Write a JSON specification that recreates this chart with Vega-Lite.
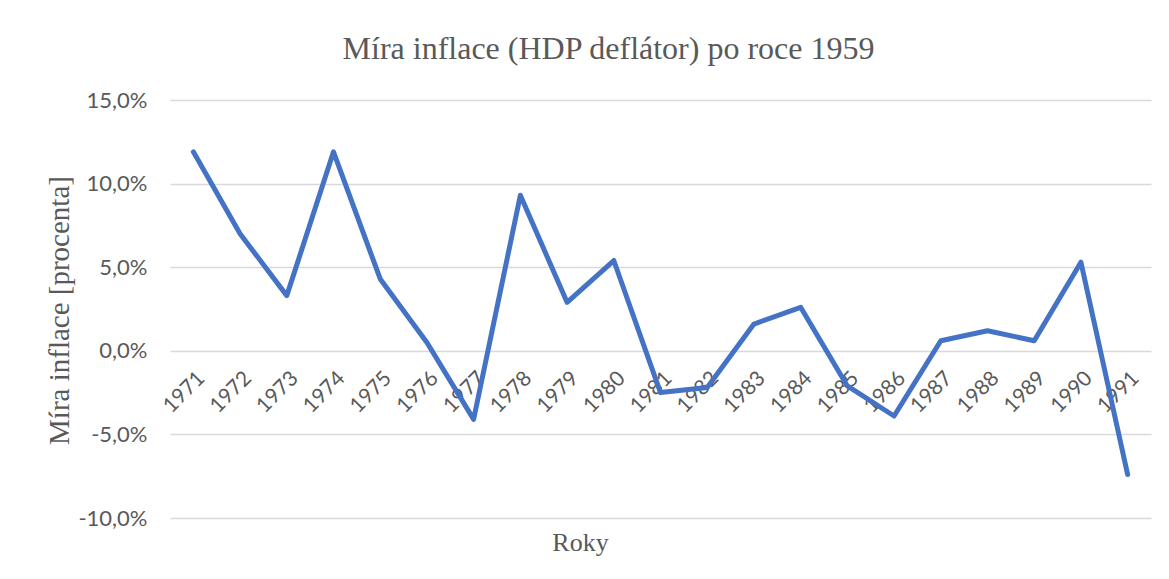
{
  "$schema": "https://vega.github.io/schema/vega-lite/v6.json",
  "autosize": "none",
  "width": 981,
  "height": 418,
  "padding": {"left": 170, "top": 100, "right": 18, "bottom": 61},
  "background": "white",
  "config": {
    "locale": {"number": {"decimal": ",", "thousands": " ", "grouping": [3], "currency": ["", " Kč"], "minus": "-"}},
    "view": {"stroke": null}
  },
  "title": {
    "text": "Míra inflace (HDP deflátor) po roce 1959",
    "font": "Liberation Serif",
    "fontSize": 32,
    "fontWeight": "normal",
    "color": "#595959",
    "anchor": "middle",
    "frame": "group",
    "dx": -52,
    "baseline": "alphabetic",
    "offset": -2
  },
  "data": {
    "values": [
      {"rok": "1971", "inflace": 0.119},
      {"rok": "1972", "inflace": 0.070},
      {"rok": "1973", "inflace": 0.033},
      {"rok": "1974", "inflace": 0.119},
      {"rok": "1975", "inflace": 0.043},
      {"rok": "1976", "inflace": 0.005},
      {"rok": "1977", "inflace": -0.041},
      {"rok": "1978", "inflace": 0.093},
      {"rok": "1979", "inflace": 0.029},
      {"rok": "1980", "inflace": 0.054},
      {"rok": "1981", "inflace": -0.025},
      {"rok": "1982", "inflace": -0.022},
      {"rok": "1983", "inflace": 0.016},
      {"rok": "1984", "inflace": 0.026},
      {"rok": "1985", "inflace": -0.021},
      {"rok": "1986", "inflace": -0.039},
      {"rok": "1987", "inflace": 0.006},
      {"rok": "1988", "inflace": 0.012},
      {"rok": "1989", "inflace": 0.006},
      {"rok": "1990", "inflace": 0.053},
      {"rok": "1991", "inflace": -0.074}
    ]
  },
  "mark": {"type": "line", "color": "#4472C4", "strokeWidth": 5, "strokeCap": "round", "strokeJoin": "round"},
  "encoding": {
    "x": {
      "field": "rok",
      "type": "ordinal",
      "scale": {"type": "point", "padding": 0.5},
      "axis": {
        "title": "Roky",
        "titleFont": "Liberation Serif",
        "titleFontSize": 26,
        "titleFontWeight": "normal",
        "titleColor": "#595959",
        "titleX": 410,
        "titleY": 199,
        "titleBaseline": "alphabetic",
        "titleAlign": "center",
        "offset": -167,
        "domain": false,
        "ticks": false,
        "grid": false,
        "labelAngle": -45,
        "labelAlign": "right",
        "labelBaseline": "top",
        "labelPadding": 16,
        "labelFont": "Lato",
        "labelFontSize": 21,
        "labelColor": "#595959"
      }
    },
    "y": {
      "field": "inflace",
      "type": "quantitative",
      "scale": {"domain": [-0.1, 0.15], "nice": false, "zero": false},
      "axis": {
        "title": "Míra inflace [procenta]",
        "titleFont": "Liberation Serif",
        "titleFontSize": 29,
        "titleFontWeight": "normal",
        "titleColor": "#595959",
        "titleX": -102,
        "titleY": 210,
        "titleBaseline": "alphabetic",
        "titleAngle": -90,
        "titleAlign": "center",
        "values": [-0.1, -0.05, 0, 0.05, 0.1, 0.15],
        "format": ".1%",
        "domain": false,
        "ticks": false,
        "grid": true,
        "gridColor": "#D9D9D9",
        "gridWidth": 1.5,
        "labelPadding": 23,
        "labelFont": "Lato",
        "labelFontSize": 22,
        "labelColor": "#595959"
      }
    }
  }
}
